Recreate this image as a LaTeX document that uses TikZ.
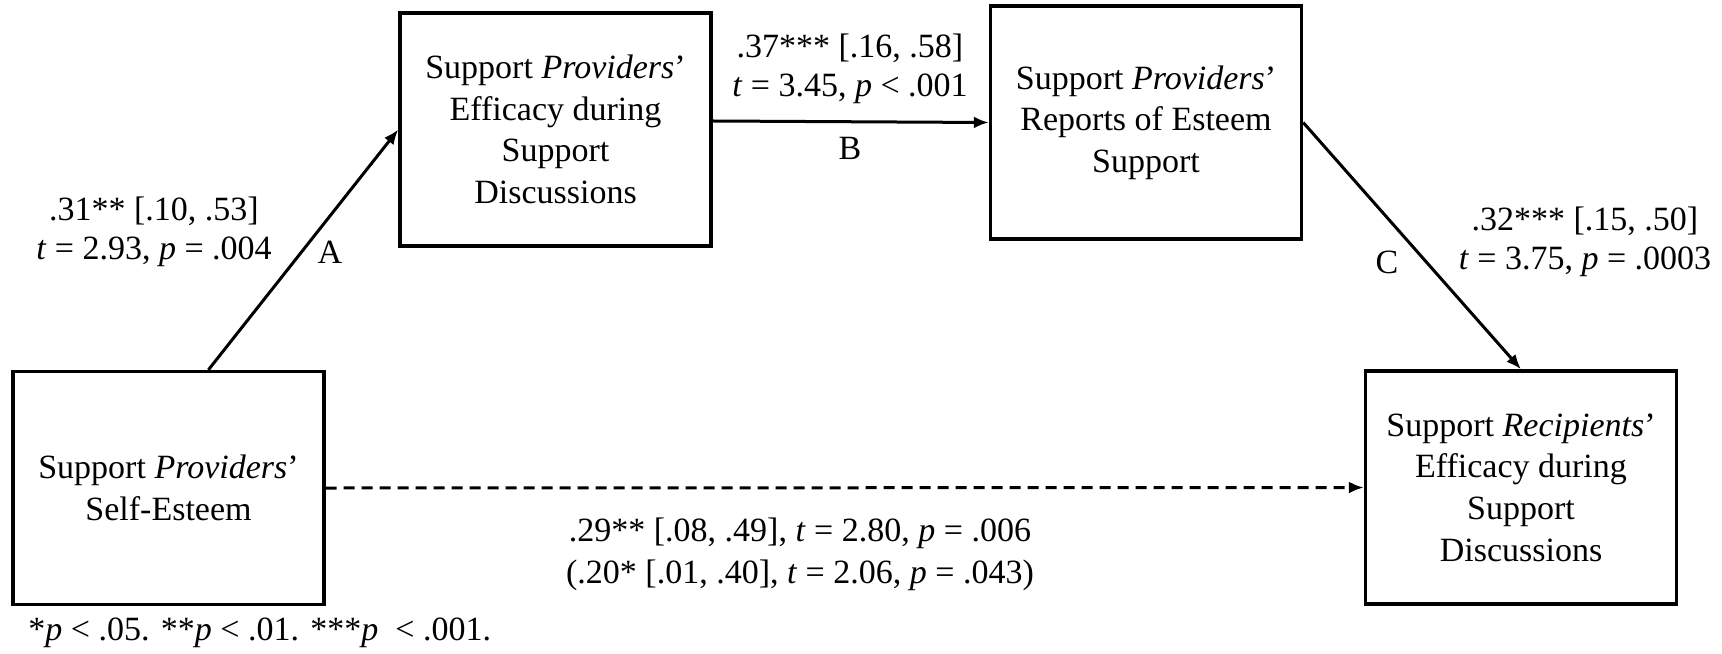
\documentclass[tikz,border=0pt]{standalone}
\usepackage{fontspec}
\setmainfont{Liberation Serif}
\usetikzlibrary{arrows.meta,calc}
\begin{document}
\begin{tikzpicture}[x=0.5pt,y=-0.5pt,
  box/.style={draw,line width=1.7pt,minimum width=155.5pt,minimum height=116.5pt,inner sep=0pt,align=center,font=\fontsize{17}{20.8}\selectfont},
  lbl/.style={align=center,inner sep=0pt,font=\fontsize{17}{19.5}\selectfont},
  conn/.style={line width=1.5pt,-{Latex[length=7.5pt,width=6pt]}},
  dconn/.style={conn,dash pattern=on 5.5pt off 3.5pt}]
\useasboundingbox (0,0) rectangle (1722,653);
\node[box] (b1) at (168.5,488) {Support \textit{Providers}’\\Self-Esteem};
\node[box] (b2) at (555.5,129.5) {Support \textit{Providers}’\\Efficacy during\\Support\\Discussions};
\node[box] (b3) at (1146,122.5) {Support \textit{Providers}’\\Reports of Esteem\\Support};
\node[box] (b4) at (1521,487.5) {Support \textit{Recipients}’\\Efficacy during\\Support\\Discussions};
\coordinate (a0) at ($(b1.north west)!0.627!(b1.north east)$);
\coordinate (bb0) at ($(b2.north east)!0.464!(b2.south east)$);
\draw[conn] (a0) -- (b2.west);
\draw[conn] (bb0) -- (b3.west);
\draw[conn] (b3.east) -- (b4.north);
\draw[dconn] (b1.east) -- (b4.west);
\node[lbl] (la) at (154,232) {.31** [.10, .53]\\\textit{t} = 2.93, \textit{p} = .004};
\node[lbl] (na) at (330,252) {A};
\node[lbl] (lb) at (850,69) {.37*** [.16, .58]\\\textit{t} = 3.45, \textit{p} < .001};
\node[lbl] (nb) at (850,148) {B};
\node[lbl] (lc) at (1585,242) {.32*** [.15, .50]\\\textit{t} = 3.75, \textit{p} = .0003};
\node[lbl] (nc) at (1387,262) {C};
\node[lbl,font=\fontsize{17}{21}\selectfont] (ld) at (800,554) {.29** [.08, .49], \textit{t} = 2.80, \textit{p} = .006\\(.20* [.01, .40], \textit{t} = 2.06, \textit{p} = .043)};
\node[lbl,anchor=west] (fn) at (28,633) {*\textit{p} < .05. **\textit{p} < .01. ***\textit{p}\ \ < .001.};
\end{tikzpicture}
\end{document}
